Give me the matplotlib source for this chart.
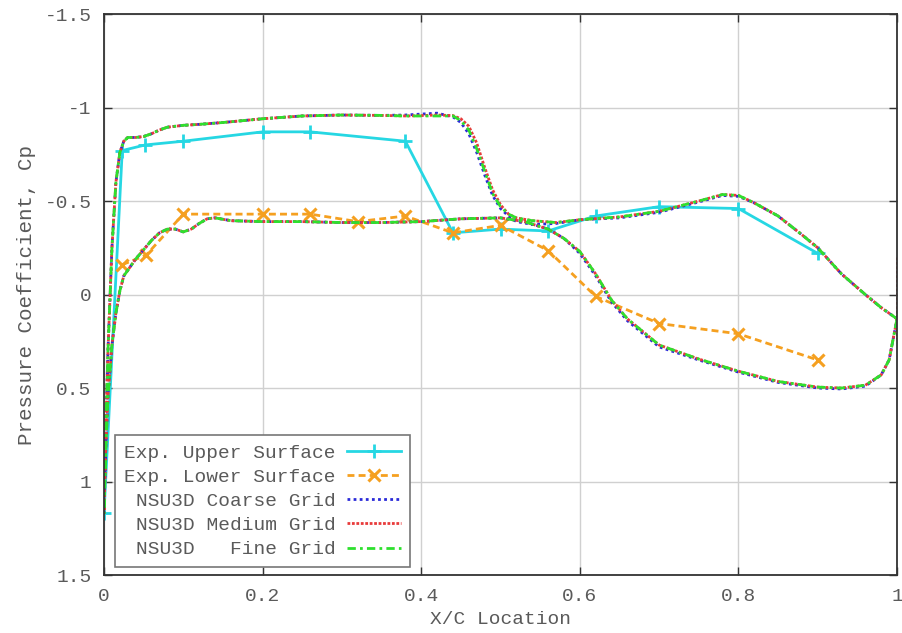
import numpy as np
import matplotlib.pyplot as plt

plt.rcParams['font.family'] = ['Liberation Mono', 'DejaVu Sans Mono']

# wind tunnel data
exp_up_x = [0.0, 0.023, 0.052, 0.10, 0.20, 0.26, 0.38, 0.44, 0.50, 0.56, 0.62, 0.70, 0.80, 0.90]
exp_up_cp = [1.17, -0.77, -0.80, -0.82, -0.87, -0.87, -0.82, -0.33, -0.35, -0.34, -0.42, -0.47, -0.46, -0.22]

exp_lo_x = [0.023, 0.053, 0.10, 0.20, 0.26, 0.32, 0.38, 0.44, 0.50, 0.56, 0.62, 0.70, 0.80, 0.90]
exp_lo_cp = [-0.16, -0.21, -0.43, -0.43, -0.43, -0.39, -0.42, -0.33, -0.37, -0.235, 0.01, 0.155, 0.21, 0.35]

# NSU3D surface stations, leading edge to trailing edge
xu = [0.0, 0.002, 0.005, 0.01, 0.015, 0.02, 0.025, 0.03, 0.04, 0.05, 0.06, 0.07, 0.08,
      0.1, 0.12, 0.15, 0.2, 0.25, 0.3, 0.35, 0.38, 0.4, 0.42, 0.44, 0.45, 0.46, 0.47,
      0.48, 0.49, 0.5, 0.51, 0.52, 0.54, 0.57, 0.6, 0.65, 0.7, 0.75, 0.78, 0.8, 0.82,
      0.85, 0.88, 0.9, 0.93, 0.96, 0.98, 1.0]
xl = [0.0, 0.002, 0.005, 0.01, 0.015, 0.02, 0.025, 0.03, 0.04, 0.05, 0.06, 0.07, 0.08,
      0.09, 0.1, 0.11, 0.12, 0.13, 0.14, 0.16, 0.2, 0.25, 0.3, 0.35, 0.4, 0.45, 0.5,
      0.53, 0.56, 0.58, 0.6, 0.62, 0.64, 0.66, 0.7, 0.75, 0.8, 0.85, 0.9, 0.93, 0.96,
      0.98, 0.99, 1.0]

fine_up = [1.17, 0.75, 0.30, -0.25, -0.60, -0.76, -0.82, -0.84, -0.84, -0.845, -0.86,
           -0.88, -0.895, -0.905, -0.91, -0.92, -0.94, -0.955, -0.96, -0.958, -0.955,
           -0.955, -0.955, -0.955, -0.93, -0.88, -0.78, -0.66, -0.54, -0.47, -0.43,
           -0.41, -0.395, -0.385, -0.40, -0.415, -0.445, -0.50, -0.535, -0.53, -0.49,
           -0.42, -0.32, -0.25, -0.11, 0.0, 0.07, 0.13]
medium_up = [1.17, 0.75, 0.30, -0.25, -0.60, -0.76, -0.82, -0.84, -0.84, -0.845, -0.86,
             -0.88, -0.895, -0.905, -0.91, -0.92, -0.94, -0.955, -0.96, -0.958, -0.955,
             -0.957, -0.96, -0.957, -0.94, -0.90, -0.81, -0.68, -0.56, -0.48, -0.43,
             -0.41, -0.395, -0.385, -0.40, -0.415, -0.445, -0.50, -0.535, -0.53, -0.49,
             -0.42, -0.32, -0.25, -0.11, 0.0, 0.07, 0.13]
coarse_up = [1.17, 0.75, 0.30, -0.25, -0.60, -0.76, -0.82, -0.84, -0.84, -0.845, -0.86,
             -0.88, -0.895, -0.905, -0.91, -0.92, -0.94, -0.955, -0.96, -0.958, -0.96,
             -0.965, -0.97, -0.95, -0.92, -0.86, -0.76, -0.64, -0.53, -0.46, -0.42,
             -0.39, -0.375, -0.38, -0.40, -0.41, -0.44, -0.495, -0.53, -0.525, -0.49,
             -0.42, -0.32, -0.25, -0.11, 0.0, 0.07, 0.13]

fine_lo = [1.17, 0.85, 0.55, 0.27, 0.10, -0.02, -0.10, -0.13, -0.19, -0.24, -0.29, -0.33,
           -0.35, -0.35, -0.335, -0.35, -0.38, -0.405, -0.41, -0.395, -0.39, -0.39,
           -0.385, -0.385, -0.39, -0.405, -0.41, -0.39, -0.35, -0.30, -0.23, -0.11,
           0.03, 0.13, 0.27, 0.345, 0.41, 0.465, 0.495, 0.50, 0.485, 0.43, 0.35, 0.13]
medium_lo = [1.17, 0.85, 0.55, 0.27, 0.10, -0.02, -0.10, -0.13, -0.19, -0.24, -0.29, -0.33,
             -0.35, -0.35, -0.335, -0.35, -0.38, -0.405, -0.41, -0.395, -0.39, -0.39,
             -0.385, -0.385, -0.39, -0.405, -0.41, -0.39, -0.35, -0.30, -0.23, -0.11,
             0.03, 0.13, 0.27, 0.345, 0.41, 0.465, 0.495, 0.50, 0.485, 0.43, 0.35, 0.13]
coarse_lo = [1.17, 0.85, 0.55, 0.27, 0.10, -0.02, -0.10, -0.13, -0.19, -0.24, -0.29, -0.33,
             -0.35, -0.35, -0.335, -0.35, -0.38, -0.405, -0.41, -0.395, -0.39, -0.39,
             -0.385, -0.385, -0.39, -0.405, -0.41, -0.39, -0.35, -0.30, -0.22, -0.10,
             0.04, 0.14, 0.28, 0.35, 0.415, 0.47, 0.50, 0.505, 0.49, 0.43, 0.35, 0.13]

# blunt trailing edge on the medium grid
medium_te_x = [1.0, 1.0]
medium_te_cp = [-0.20, 0.24]

xticks = [0, 0.2, 0.4, 0.6, 0.8, 1]
xticklabels = ['0', '0.2', '0.4', '0.6', '0.8', '1']
yticks = [-1.5, -1, -0.5, 0, 0.5, 1, 1.5]
yticklabels = ['-1.5', '-1', '-0.5', '0', '0.5', '1', '1.5']


def loop(up, lo):
    x = list(reversed(xu)) + xl
    cp = list(reversed(up)) + lo
    return x, cp


fig = plt.figure(figsize=(9.02, 6.33), dpi=100)
ax = fig.add_axes([0.1153, 0.0916, 0.8792, 0.8862])

txt = '#5a5a5a'
fs = 14

ax.plot(exp_up_x, exp_up_cp, color='#26d7e3', lw=2, marker='+', ms=10, mew=2,
        label='Exp. Upper Surface')
ax.plot(exp_lo_x, exp_lo_cp, color='#f5a020', lw=2, ls=(0, (2.5, 1.5)), marker='x',
        ms=9, mew=2.2, label='Exp. Lower Surface')

x, cp = loop(coarse_up, coarse_lo)
ax.plot(x, cp, color='#2a2ad8', lw=2, ls=(0, (1, 1.2)), label='NSU3D Coarse Grid')
x, cp = loop(medium_up, medium_lo)
ax.plot(x, cp, color='#e83a3a', lw=2, ls=(0, (1, 0.6)), label='NSU3D Medium Grid')
ax.plot(medium_te_x, medium_te_cp, color='#c83030', lw=2, ls=(0, (1, 0.6)))
x, cp = loop(fine_up, fine_lo)
ax.plot(x, cp, color='#2ee02e', lw=2, ls=(0, (3, 1.5, 1, 1.5)), label='NSU3D   Fine Grid')

ax.set_xlim(0, 1)
ax.set_ylim(1.5, -1.5)
ax.set_xticks(xticks)
ax.set_xticklabels(xticklabels)
ax.set_yticks(yticks)
ax.set_yticklabels(yticklabels)
ax.grid(True, color='#d0d0d0', lw=1)
ax.set_axisbelow(True)
ax.tick_params(direction='in', top=True, right=True, length=6, width=1,
               color='#333333', labelcolor=txt, labelsize=fs, pad=9)
for s in ax.spines.values():
    s.set_color('#333333')
    s.set_linewidth(1.3)

ax.set_xlabel('X/C Location', color=txt, fontsize=fs, labelpad=5)
ax.set_ylabel('Pressure Coefficient, Cp', color=txt, fontsize=15, labelpad=6)

leg = ax.legend(loc='lower left', bbox_to_anchor=(0.014, 0.014), borderaxespad=0,
                markerfirst=False, fancybox=False, framealpha=1, edgecolor='#777777',
                fontsize=fs, handlelength=2.8, handletextpad=0.6, labelspacing=0.34,
                numpoints=1, borderpad=0.45)
leg.get_frame().set_linewidth(1.2)
for t in leg.get_texts():
    t.set_color(txt)

fig.savefig('out.png', dpi=100)
